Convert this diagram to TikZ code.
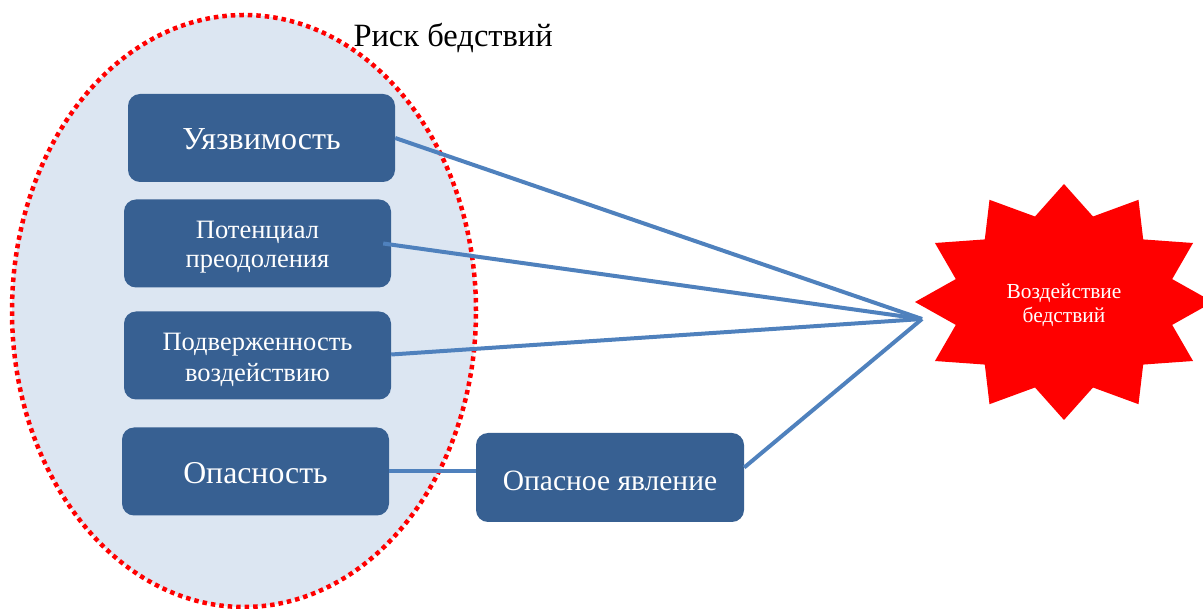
\documentclass[tikz,border=0pt]{standalone}
\usepackage{fontspec}
\setmainfont{Liberation Serif}
\definecolor{boxblue}{RGB}{55,96,146}
\definecolor{linkblue}{RGB}{79,129,189}
\definecolor{lightfill}{RGB}{220,230,242}
\begin{document}
\begin{tikzpicture}[x=1pt,y=-1pt,
  rbox/.style={draw=none,fill=boxblue,rounded corners=12pt,
    minimum width=267pt,minimum height=88pt,inner sep=0pt},
  btext/.style={text=white,align=center,inner sep=0pt},
  link/.style={draw=linkblue,line width=4pt}]
\useasboundingbox (0,0) rectangle (1203,609);
\clip (0,0) rectangle (1203,609);
% ellipse
\draw[fill=lightfill,draw=red,line width=4.5pt,dash pattern=on 4.5pt off 4pt] (244,311) ellipse [x radius=232pt,y radius=296pt];
\node[anchor=west,font=\fontsize{32.5}{36}\selectfont] (title) at (350,38) {Риск бедствий};
% boxes
\node[rbox] (vul) at (261.5,138) {};
\node[btext,font=\fontsize{32}{36}\selectfont] (vult) at ([yshift=-1pt]vul.center) {Уязвимость};
\node[rbox] (cap) at (257.5,243.5) {};
\node[btext,font=\fontsize{26.5}{29}\selectfont] (capt) at ([yshift=-4pt]cap.center) {Потенциал\\преодоления};
\node[rbox] (exp) at (257.5,355.5) {};
\node[btext,font=\fontsize{26.5}{31}\selectfont] (expt) at ([yshift=-4pt]exp.center) {Подверженность\\воздействию};
\node[rbox] (haz) at (255.5,471.5) {};
\node[btext,font=\fontsize{31.8}{36}\selectfont] (hazt) at ([yshift=-2pt]haz.center) {Опасность};
\node[rbox,minimum width=268pt,minimum height=89pt] (ev) at (610,477.5) {};
\node[btext,font=\fontsize{29.5}{34}\selectfont] (evt) at ([yshift=-3pt]ev.center) {Опасное явление};
% star
\coordinate (sc) at (1064,302);
\fill[red] plot[samples at={0,...,23},variable=\k] 
  ({1064+(mod(\k,2)==0 ? 149 : 112)*cos(90+15*\k)},{302-(mod(\k,2)==0 ? 118 : 88.5)*sin(90+15*\k)}) -- cycle;
\node[text=white,align=center,font=\fontsize{21.4}{24}\selectfont] (imp) at ([yshift=-3pt]sc) {Воздействие\\бедствий};
\coordinate (tip) at (922,319);
% links
\draw[link] (vul.east) -- (tip);
\draw[link] ([xshift=-8pt]cap.east) -- (tip);
\draw[link] ([yshift=1pt]exp.east) -- (tip);
\draw[link] (haz.east) -- (haz.east -| ev.west);
\draw[link] ([yshift=10pt]ev.east) -- (tip);
\end{tikzpicture}
\end{document}
